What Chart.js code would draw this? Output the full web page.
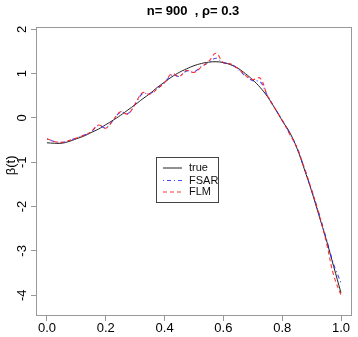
<!DOCTYPE html>
<html><head><meta charset="utf-8">
<script src="https://cdn.jsdelivr.net/npm/chart.js@4/dist/chart.umd.min.js"></script>
<style>html,body{margin:0;padding:0;background:#fff}#c{display:block}</style>
</head><body>
<div style="width:358px;height:337px"><canvas id="c" width="358" height="337"></canvas></div>
<script>
const chartTitle = "n= 900  , \u03C1= 0.3";
const yTitle = "\u03B2(t)";
const tGrid = [0,0.025,0.05,0.075,0.1,0.125,0.15,0.175,0.2,0.225,0.25,0.275,0.3,0.325,0.35,0.375,0.4,0.425,0.45,0.475,0.5,0.525,0.55,0.575,0.6,0.625,0.65,0.675,0.7,0.725,0.75,0.775,0.8,0.825,0.85,0.875,0.9,0.925,0.95,0.975,1.0];
const trueVals = [-0.56,-0.57,-0.57,-0.53,-0.47,-0.41,-0.33,-0.25,-0.15,-0.05,0.06,0.18,0.30,0.43,0.55,0.69,0.81,0.93,1.03,1.11,1.18,1.23,1.26,1.27,1.25,1.20,1.12,1.00,0.86,0.69,0.48,0.22,-0.06,-0.32,-0.68,-1.15,-1.65,-2.2,-2.75,-3.35,-3.95];
const fsarVals = [-0.47,-0.53,-0.55,-0.51,-0.45,-0.39,-0.31,-0.17,-0.22,-0.05,0.13,0.10,0.31,0.55,0.55,0.66,0.80,0.97,0.94,1.06,1.04,1.16,1.25,1.35,1.25,1.22,1.10,0.95,0.84,0.82,0.50,0.22,-0.05,-0.34,-0.67,-1.13,-1.63,-2.15,-2.72,-3.3,-3.72];
const flmVals = [-0.47,-0.53,-0.55,-0.51,-0.45,-0.39,-0.31,-0.16,-0.23,-0.05,0.14,0.09,0.32,0.57,0.54,0.66,0.80,1.00,0.94,1.07,1.03,1.15,1.28,1.46,1.25,1.22,1.11,0.96,0.87,0.90,0.50,0.22,-0.05,-0.36,-0.66,-1.12,-1.62,-2.17,-2.8,-3.55,-4.0];
const xTicks = [0,0.2,0.4,0.6,0.8,1.0];
const yTicks = [-4,-3,-2,-1,0,1,2];
const seriesNames = ["true","FSAR","FLM"];

const pts = v => tGrid.map((t,i)=>({x:t,y:v[i]}));
const FONT = "'Liberation Sans', Arial, sans-serif";

const overlay = {
  id:'overlay',
  afterDraw(chart){
    const ctx = chart.ctx, a = chart.chartArea;
    const xs = chart.scales.x, ys = chart.scales.y;
    ctx.save();
    ctx.strokeStyle = '#999'; ctx.lineWidth = 1;
    ctx.strokeRect(Math.round(a.left)+0.5, Math.round(a.top)+0.5, Math.round(a.right-a.left)-1, Math.round(a.bottom-a.top)-1);
    ctx.fillStyle = '#000';
    ctx.font = '13px ' + FONT;
    ctx.textAlign = 'center'; ctx.textBaseline = 'middle';
    xTicks.forEach(v => ctx.fillText(v.toFixed(1), xs.getPixelForValue(v), 328));
    yTicks.forEach(v => {
      ctx.save();
      ctx.translate(22, ys.getPixelForValue(v));
      ctx.rotate(-Math.PI/2);
      ctx.fillText(String(v), 0, 0);
      ctx.restore();
    });
    ctx.save();
    ctx.translate(11, ys.getPixelForValue(-1.07));
    ctx.rotate(-Math.PI/2);
    ctx.fillText(yTitle, 0, 0);
    ctx.restore();
    ctx.font = 'bold 13px ' + FONT;
    ctx.fillText(chartTitle, 193, 11);
    // legend
    const lx = 156, ly = 157, lw = 62, lh = 45;
    ctx.strokeStyle = '#444'; ctx.lineWidth = 1;
    ctx.strokeRect(lx+0.5, ly+0.5, lw, lh);
    const rows = [168, 180.5, 192];
    chart.data.datasets.forEach((ds,i) => {
      ctx.save();
      ctx.strokeStyle = ds.borderColor; ctx.lineWidth = ds.borderWidth;
      ctx.setLineDash(ds.borderDash || []);
      ctx.beginPath(); ctx.moveTo(163, rows[i]); ctx.lineTo(182, rows[i]); ctx.stroke();
      ctx.restore();
      ctx.fillStyle = '#111'; ctx.font = '11px ' + FONT; ctx.textAlign = 'left';
      ctx.fillText(ds.label, 189, rows[i]);
    });
    ctx.restore();
  }
};

new Chart(document.getElementById('c'), {
  type:'line',
  data:{datasets:[
    {label:seriesNames[0], data:pts(trueVals), borderColor:'#222', borderWidth:1, pointRadius:0, tension:0.4, order:3},
    {label:seriesNames[1], data:pts(fsarVals), borderColor:'rgba(40,40,255,0.85)', borderWidth:1.1, borderDash:[1,3,4,3], pointRadius:0, tension:0.4, order:2},
    {label:seriesNames[2], data:pts(flmVals), borderColor:'rgba(255,30,30,0.9)', borderWidth:1.1, borderDash:[4,3], pointRadius:0, tension:0.4, order:1}
  ]},
  options:{
    responsive:false, animation:false,
    layout:{padding:{left:31,right:6,top:27,bottom:16}},
    plugins:{legend:{display:false}, tooltip:{enabled:false}},
    scales:{
      x:{type:'linear', min:-0.0374, max:1.0374,
         afterBuildTicks: s => { s.ticks = xTicks.map(v=>({value:v})); },
         ticks:{display:false},
         grid:{drawOnChartArea:false, drawTicks:true, tickLength:5, color:'#999'},
         border:{display:false}},
      y:{type:'linear', min:-4.47, max:2.054,
         afterBuildTicks: s => { s.ticks = yTicks.map(v=>({value:v})); },
         ticks:{display:false},
         grid:{drawOnChartArea:false, drawTicks:true, tickLength:5, color:'#999'},
         border:{display:false}}
    }
  },
  plugins:[overlay]
});
</script>
</body></html>
